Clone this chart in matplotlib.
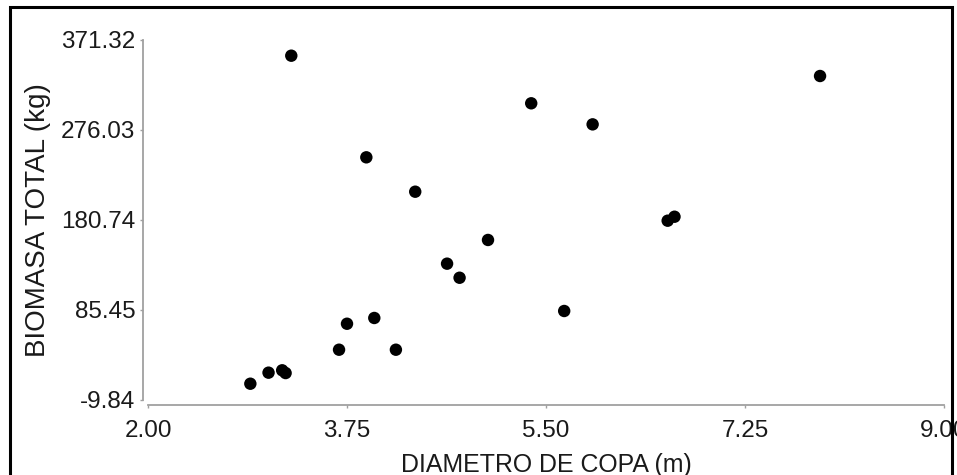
import numpy as np
import matplotlib
matplotlib.use('Agg')
import matplotlib.pyplot as plt
from matplotlib.patches import Rectangle

# =============================================================================
# DATA
diametro_copa = [2.90, 3.06, 3.18, 3.21, 3.26, 3.68, 3.75, 3.92, 3.99, 4.18,
                 4.35, 4.63, 4.74, 4.99, 5.37, 5.66, 5.91, 6.57, 6.63, 7.91]
biomasa_total = [7.4, 19.1, 21.6, 18.7, 354.7, 43.4, 70.9, 247.1, 77.0, 43.4,
                 210.7, 134.5, 119.6, 159.6, 304.3, 84.4, 282.0, 180.0, 184.2, 333.2]

x_ticks = [2.00, 3.75, 5.50, 7.25, 9.00]
y_ticks = [-9.84, 85.45, 180.74, 276.03, 371.32]

# =============================================================================
plt.rcParams['font.family'] = ['Liberation Sans', 'DejaVu Sans']

fig = plt.figure(figsize=(9.57, 4.75), dpi=100)
ax = fig.add_axes([148 / 957, 1 - 400 / 475, 796 / 957, 360 / 475])

ax.scatter(diametro_copa, biomasa_total, s=80, c='black', edgecolors='none',
           zorder=3, clip_on=False)

ax.set_xlim(x_ticks[0], x_ticks[-1])
ax.set_ylim(y_ticks[0], y_ticks[-1])
ax.set_xticks(x_ticks)
ax.set_xticklabels([f'{t:.2f}' for t in x_ticks])
ax.set_yticks(y_ticks)
ax.set_yticklabels([f'{t:.2f}' for t in y_ticks])

# gray detached spines
for side in ['top', 'right']:
    ax.spines[side].set_visible(False)
for side in ['left', 'bottom']:
    ax.spines[side].set_position(('outward', 3.6))
    ax.spines[side].set_color('#a0a0a0')
    ax.spines[side].set_linewidth(1.3)

ax.tick_params(axis='both', colors='#a0a0a0', length=2.5, width=1.0,
               labelsize=17.5, labelcolor='#1a1a1a')
ax.tick_params(axis='x', pad=8)
ax.tick_params(axis='y', pad=3)

ax.set_xlabel('DIAMETRO DE COPA (m)', fontsize=17.9, color='#1a1a1a', labelpad=8)
ax.set_ylabel('BIOMASA TOTAL (kg)', fontsize=20, color='#1a1a1a', labelpad=7)

# outer black frame (bottom edge falls outside the picture)
fig.patches.append(Rectangle((10 / 957, -0.05), 942 / 957, 1.05 - 7 / 475,
                             transform=fig.transFigure, fill=False,
                             edgecolor='black', linewidth=2.2))

fig.savefig('out.png', dpi=100)
